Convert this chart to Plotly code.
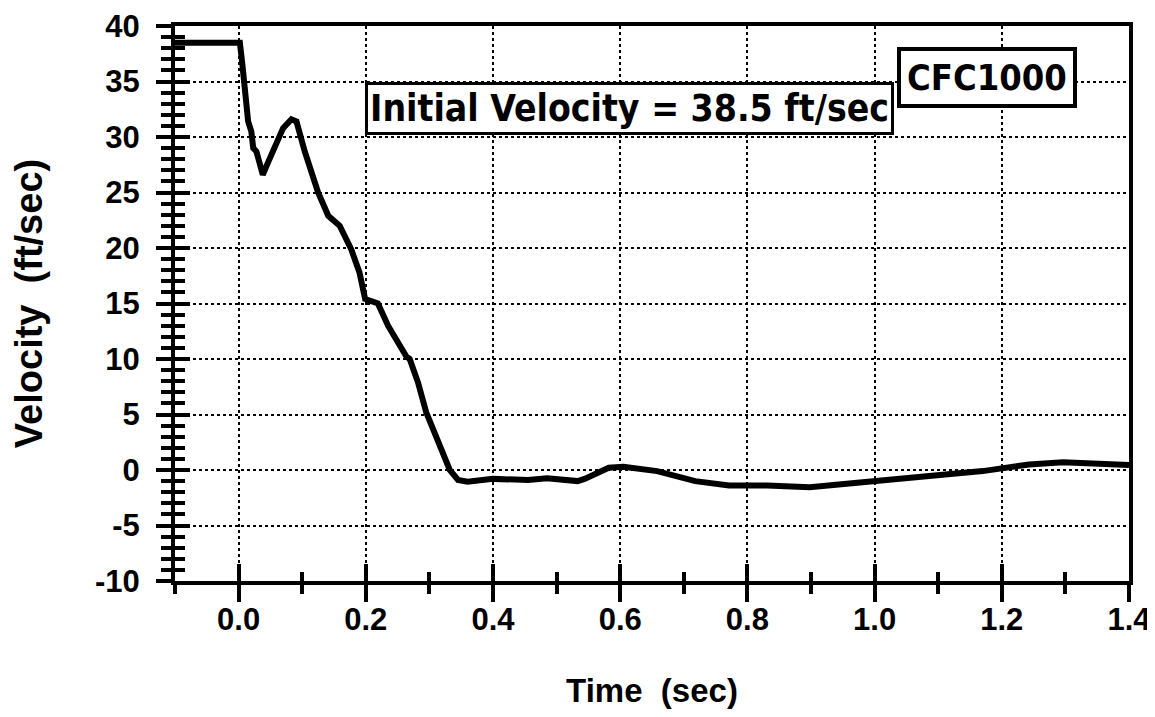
import plotly.graph_objects as go

# Data
time_s = [-0.1, 0.002, 0.006, 0.0105, 0.015, 0.02, 0.023, 0.028, 0.038, 0.047, 0.057,
          0.07, 0.083, 0.091, 0.104, 0.114, 0.125, 0.141, 0.159, 0.177, 0.19, 0.199,
          0.21, 0.219, 0.235, 0.251, 0.264, 0.269, 0.282, 0.295, 0.313, 0.332, 0.345,
          0.36, 0.40, 0.455, 0.485, 0.533, 0.544, 0.582, 0.605, 0.658, 0.718, 0.771,
          0.831, 0.898, 0.981, 1.079, 1.17, 1.243, 1.296, 1.4]
velocity = [38.5, 38.5, 36.5, 34.0, 31.4, 30.5, 29.0, 28.7, 26.6, 27.8, 29.0,
            30.8, 31.6, 31.4, 28.7, 26.8, 25.0, 22.9, 22.0, 19.9, 17.8, 15.4,
            15.2, 15.0, 13.0, 11.3, 10.2, 10.0, 7.9, 5.2, 2.8, 0.0, -0.9,
            -1.05, -0.8, -0.9, -0.75, -1.0, -0.8, 0.2, 0.3, -0.1, -1.0, -1.4,
            -1.4, -1.55, -1.1, -0.55, -0.1, 0.5, 0.7, 0.45]

x_range = [-0.1, 1.4]
y_range = [-10, 40]
x_tickvals = [0.0, 0.2, 0.4, 0.6, 0.8, 1.0, 1.2, 1.4]
x_ticktext = ["0.0", "0.2", "0.4", "0.6", "0.8", "1.0", "1.2", "1.4"]
y_tickvals = [-10, -5, 0, 5, 10, 15, 20, 25, 30, 35, 40]
y_ticktext = ["-10", "-5", "0", "5", "10", "15", "20", "25", "30", "35", "40"]

label_initial = "Initial Velocity = 38.5 ft/sec"
label_filter = "CFC1000"
x_title = "Time  (sec)"
y_title = "Velocity  (ft/sec)"

FONT = "Liberation Sans, Arial, sans-serif"
NARROW = "Liberation Sans Narrow, DejaVu Sans Condensed, Arial, sans-serif"

fig = go.Figure()
fig.add_trace(go.Scatter(x=time_s, y=velocity, mode="lines",
                         line=dict(color="black", width=6), showlegend=False,
                         hoverinfo="skip"))
# invisible trace to carry the overlay axes (inner half of the crossing ticks)
fig.add_trace(go.Scatter(x=[x_range[0]], y=[y_range[0]], xaxis="x2", yaxis="y2",
                         mode="markers", marker=dict(opacity=0), showlegend=False,
                         hoverinfo="skip"))

tickfont = dict(family=FONT, size=31, color="black", weight="bold")

fig.update_layout(
    width=1155, height=717,
    margin=dict(l=167, r=34, t=18, b=144, autoexpand=False),
    paper_bgcolor="white", plot_bgcolor="white",
    xaxis=dict(range=x_range, tickmode="array", tickvals=x_tickvals, ticktext=x_ticktext,
               ticks="outside", ticklen=17, tickwidth=4, tickcolor="black",
               ticklabelstandoff=-9,
               minor=dict(dtick=0.1, tick0=0, ticks="outside", ticklen=9, tickwidth=4,
                          tickcolor="black", showgrid=False),
               showline=True, linewidth=4, linecolor="black", mirror=True,
               showgrid=True, gridcolor="black", gridwidth=1.5, griddash="dot",
               zeroline=False, tickfont=tickfont, automargin=False,
               title=dict(text=x_title, font=dict(family=FONT, size=33, color="black", weight="bold"),
                          standoff=44)),
    yaxis=dict(range=y_range, tickmode="array", tickvals=y_tickvals, ticktext=y_ticktext,
               ticks="outside", ticklen=15, tickwidth=4, tickcolor="black",
               ticklabelstandoff=10,
               minor=dict(dtick=1, tick0=0, ticks="outside", ticklen=10, tickwidth=4,
                          tickcolor="black", showgrid=False),
               showline=True, linewidth=4, linecolor="black", mirror=True,
               showgrid=True, gridcolor="black", gridwidth=1.5, griddash="dot",
               zeroline=False, tickfont=tickfont, automargin=False,
               title=dict(text=y_title, font=dict(family=FONT, size=38, color="black", weight="bold"),
                          standoff=43)),
    xaxis2=dict(range=x_range, overlaying="x", anchor="y", side="bottom",
                tickmode="array", tickvals=x_tickvals, ticks="inside", ticklen=17,
                tickwidth=4, tickcolor="black",
                minor=dict(dtick=0.1, tick0=0, ticks="inside", ticklen=9, tickwidth=4,
                           tickcolor="black", showgrid=False),
                showticklabels=False, showgrid=False, showline=False, zeroline=False),
    yaxis2=dict(range=y_range, overlaying="y", anchor="x", side="left",
                tickmode="array", tickvals=y_tickvals, ticks="inside", ticklen=15,
                tickwidth=4, tickcolor="black",
                minor=dict(dtick=1, tick0=0, ticks="inside", ticklen=10, tickwidth=4,
                           tickcolor="black", showgrid=False),
                showticklabels=False, showgrid=False, showline=False, zeroline=False),
    annotations=[
        dict(x=0.614, y=32.6, xref="x", yref="y", text=label_initial, showarrow=False,
             font=dict(family=NARROW, size=37, color="black", weight="bold"),
             bgcolor="white", bordercolor="black", borderwidth=3, borderpad=2),
        dict(x=1.177, y=35.4, xref="x", yref="y", text=label_filter, showarrow=False,
             font=dict(family=NARROW, size=36, color="black", weight="bold"),
             bgcolor="white", bordercolor="black", borderwidth=4, borderpad=6),
    ],
)

fig.write_html("out.html")
